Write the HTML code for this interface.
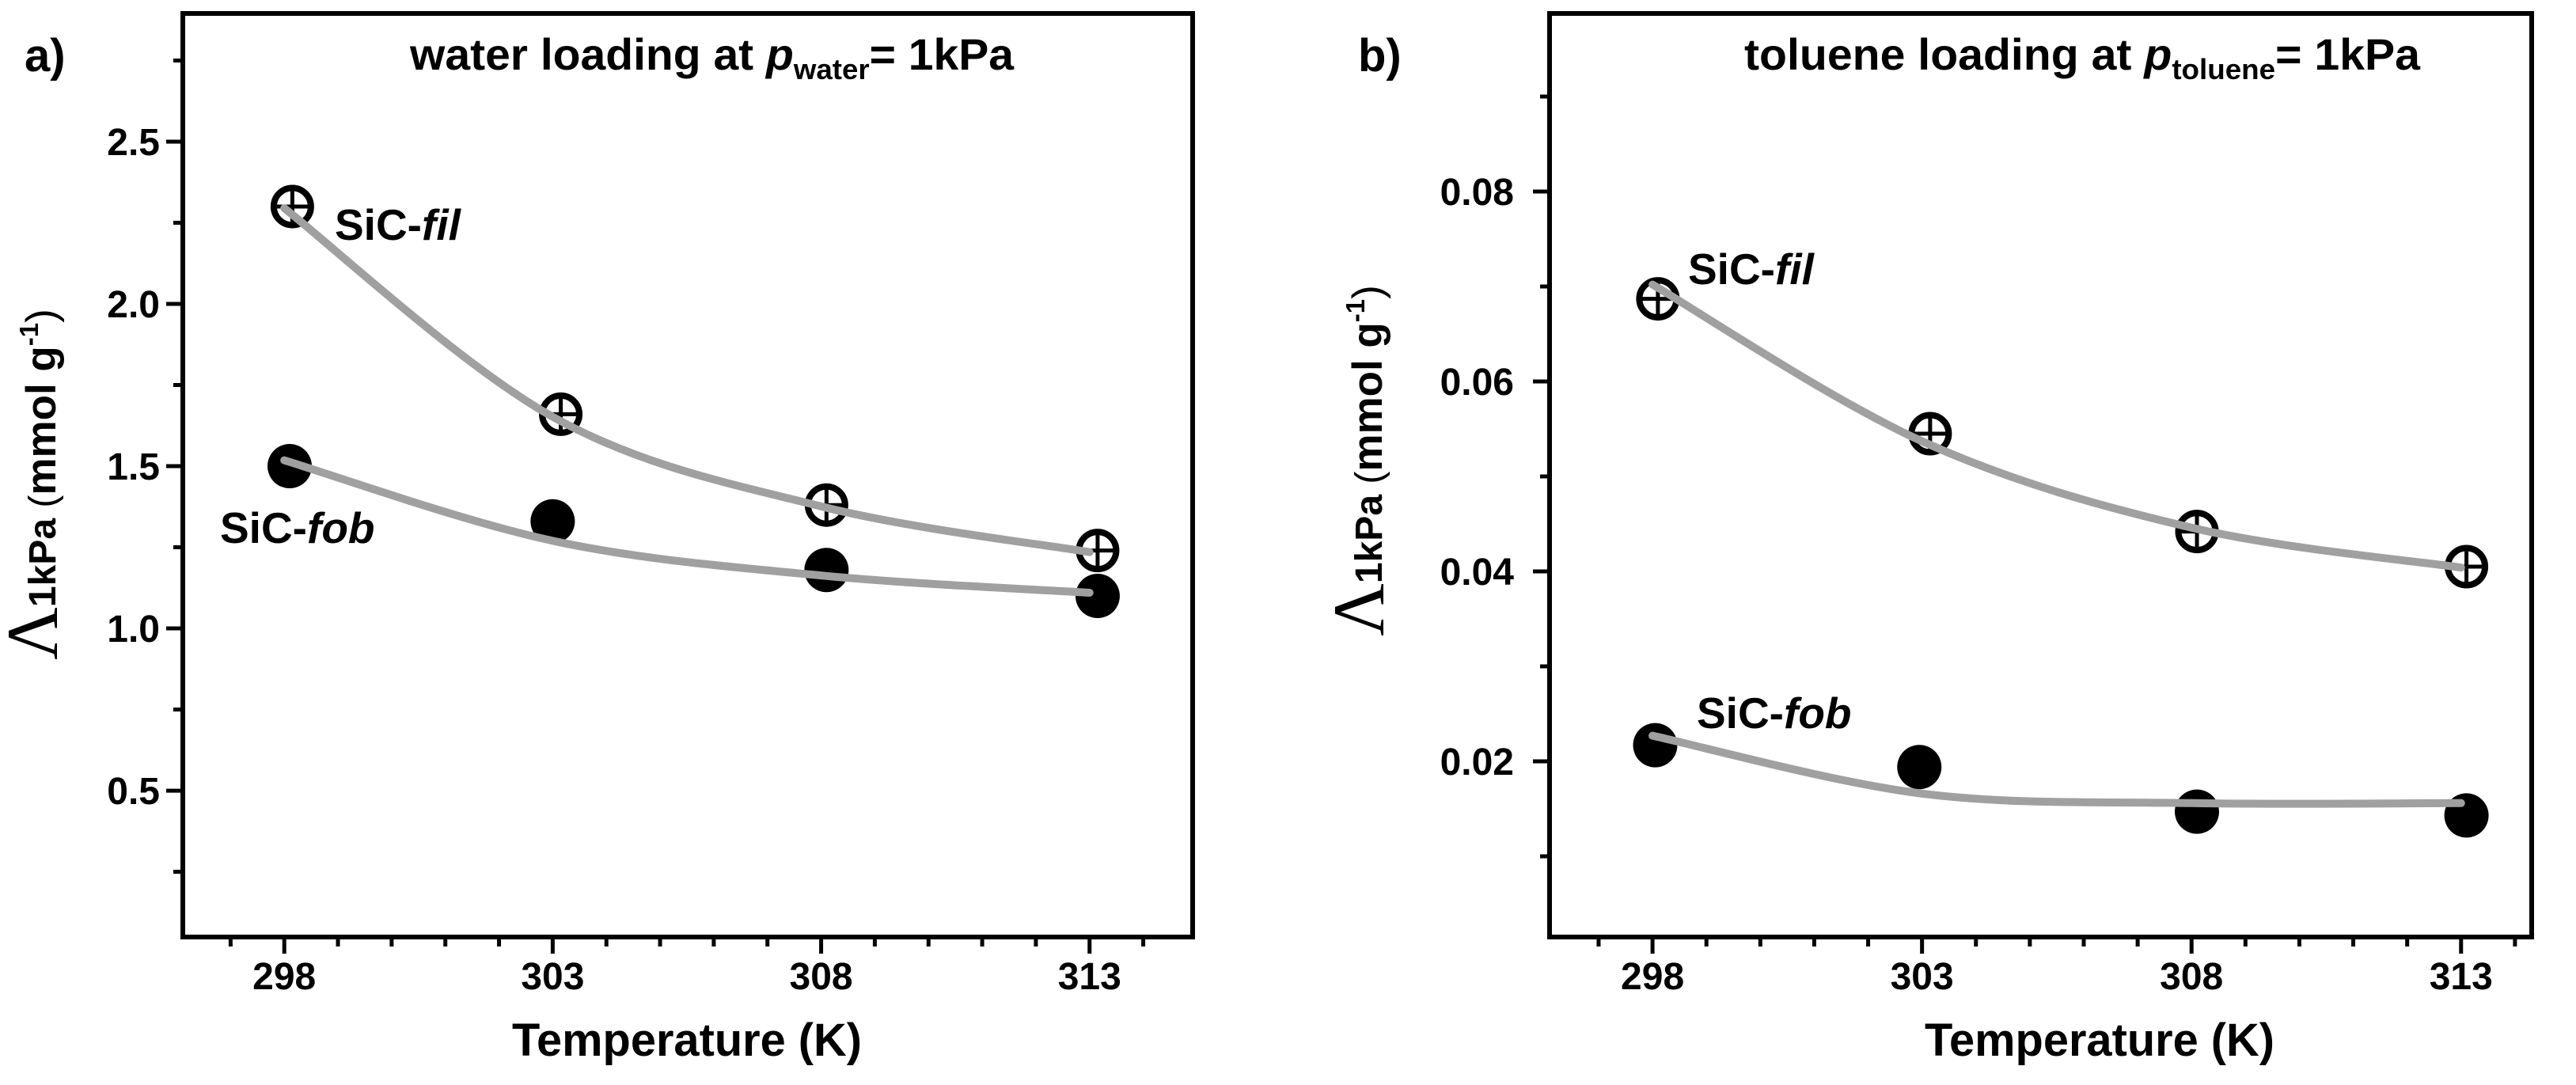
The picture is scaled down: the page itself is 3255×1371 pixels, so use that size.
<!DOCTYPE html>
<html><head><meta charset="utf-8"><style>
html,body{margin:0;padding:0;background:#fff;overflow:hidden}
svg{display:block}
text{font-family:"Liberation Sans",sans-serif;font-weight:bold;fill:#000}
</style></head><body>
<svg id="chart" width="3255" height="1371" viewBox="0 0 3255 1371" xmlns="http://www.w3.org/2000/svg"></svg>
<script>
// ---- Panel a (water) data ----
const temps = [298, 303, 308, 313];
const waterFilX = [298.15, 303.15, 308.1, 313.15];
const waterFil = [2.30, 1.66, 1.38, 1.24];
const waterFobX = [298.1, 303.0, 308.1, 313.15];
const waterFob = [1.50, 1.33, 1.18, 1.10];
const waterFilCurve = [2.295, 1.652, 1.376, 1.235];
const waterFobCurve = [1.518, 1.270, 1.163, 1.110];
const waterYTicks = [0.5, 1.0, 1.5, 2.0, 2.5];
const waterYTickLabels = ["0.5", "1.0", "1.5", "2.0", "2.5"];
// ---- Panel b (toluene) data ----
const tolFilX = [298.1, 303.15, 308.1, 313.1];
const tolFil = [0.0687, 0.0545, 0.0442, 0.0405];
const tolFobX = [298.05, 302.95, 308.1, 313.1];
const tolFob = [0.0217, 0.0194, 0.0147, 0.0143];
const tolFilCurve = [0.0702, 0.0537, 0.0446, 0.0404];
const tolFobCurve = [0.0227, 0.0166, 0.0156, 0.0156];
const tolYTicks = [0.02, 0.04, 0.06, 0.08];
const tolYTickLabels = ["0.02", "0.04", "0.06", "0.08"];
const xTicks = [298, 303, 308, 313];
const xTickLabels = ["298", "303", "308", "313"];

const NS = "http://www.w3.org/2000/svg";
const svg = document.getElementById("chart");
function mk(tag, attrs, parent) {
  const e = document.createElementNS(NS, tag);
  for (const k in attrs) e.setAttribute(k, attrs[k]);
  (parent || svg).appendChild(e);
  return e;
}

function panel(cfg) {
  const g = mk("g", {});
  
  
  const L = cfg.left, R = cfg.right, T = 17, B = 1184;
  const sx = v => L + (v - cfg.xmin) / (cfg.xmax - cfg.xmin) * (R - L);
  const sy = v => B - (v - cfg.ymin) / (cfg.ymax - cfg.ymin) * (B - T);
  const fr = mk("rect", {x: L, y: T, width: R - L, height: B - T, fill: "none", stroke: "#000", "stroke-width": 6}, g);
  
  
  for (let t = Math.ceil(cfg.xmin); t <= cfg.xmax; t++) {
    const major = xTicks.includes(t);
    const tk = mk("line", {x1: sx(t), x2: sx(t), y1: B, y2: B + (major ? 21 : 12), stroke: "#000", "stroke-width": 5}, g);
    
    
  }
  xTicks.forEach((t, i) => {
    const tx = mk("text", {x: sx(t), y: 1250, "font-size": 48, "text-anchor": "middle"}, g);
    tx.textContent = xTickLabels[i];
    
    
  });
  const step = cfg.yTicks[1] - cfg.yTicks[0];
  for (let k = -1; k < 2 * cfg.yTicks.length + 2; k++) {
    const v = cfg.yTicks[0] + k * step / 2;
    if (v < cfg.ymin || v > cfg.ymax) continue;
    const major = k % 2 === 0;
    const tk = mk("line", {x1: L, x2: L - (major ? 21 : 12), y1: sy(v), y2: sy(v), stroke: "#000", "stroke-width": 5}, g);
    
    
  }
  cfg.yTicks.forEach((t, i) => {
    const tx = mk("text", {x: cfg.yLabelRight, y: sy(t) + 17, "font-size": 48, "text-anchor": "end"}, g);
    tx.textContent = cfg.yLabels[i];
    
    
  });
  const xt = mk("text", {x: cfg.xTitleX - 221, y: 1334, "font-size": 58, textLength: 442, lengthAdjust: "spacingAndGlyphs"}, g);
  xt.textContent = "Temperature (K)";
  
  
  const yt = mk("text", {transform: `translate(${cfg.yTitleX},${cfg.yTitleY}) rotate(-90)`, "text-anchor": "middle", "font-size": 53}, g);
  
  
  yt.innerHTML = '<tspan style="font-family:\'Liberation Serif\',serif;font-weight:normal" font-size="92">Λ</tspan><tspan font-size="48" dy="-2">1kPa</tspan><tspan font-weight="normal" font-size="48"> (</tspan><tspan>mmol g</tspan><tspan font-size="33" dy="-22">-1</tspan><tspan dy="22" font-weight="normal">)</tspan>';
  const pl = mk("text", {x: cfg.letterX, y: 90, "font-size": 58}, g);
  pl.textContent = cfg.letter;
  
  
  const ti = mk("text", {x: cfg.titleX, y: 88, "font-size": 56, textLength: cfg.titleW, lengthAdjust: "spacingAndGlyphs"}, g);
  ti.innerHTML = cfg.title;
  
  
  function curvePath(ys) {
    const p = temps.map((t, i) => [sx(t), sy(ys[i])]);
    let d = `M${p[0][0]},${p[0][1]}`;
    for (let i = 0; i < p.length - 1; i++) {
      const p0 = p[Math.max(i - 1, 0)], p1 = p[i], p2 = p[i + 1], p3 = p[Math.min(i + 2, p.length - 1)];
      const c1 = [p1[0] + (p2[0] - p0[0]) / 6, p1[1] + (p2[1] - p0[1]) / 6];
      const c2 = [p2[0] - (p3[0] - p1[0]) / 6, p2[1] - (p3[1] - p1[1]) / 6];
      d += ` C${c1[0]},${c1[1]} ${c2[0]},${c2[1]} ${p2[0]},${p2[1]}`;
    }
    return d;
  }
  cfg.fobX.forEach((x, i) => {
    const c = mk("circle", {cx: sx(x), cy: sy(cfg.fob[i]), r: 28, fill: "#000"}, g);
    
    
  });
  cfg.filX.forEach((x, i) => {
    const cx = sx(x), cy = sy(cfg.fil[i]);
    const gg = mk("g", {}, g);
    
    
    mk("circle", {cx, cy, r: 23.5, fill: "#fff", stroke: "#000", "stroke-width": 8}, gg);
    mk("line", {x1: cx - 20, x2: cx + 20, y1: cy, y2: cy, stroke: "#000", "stroke-width": 5}, gg);
    mk("line", {x1: cx, x2: cx, y1: cy - 21, y2: cy + 21, stroke: "#000", "stroke-width": 5}, gg);
  });
  [[cfg.filCurve, 'fil-fit-curve'], [cfg.fobCurve, 'fob-fit-curve']].forEach(([ys, nm]) => {
    const c = mk("path", {d: curvePath(ys), fill: "none", stroke: "#a0a0a0", "stroke-width": 10, "stroke-linecap": "round"}, g);
    
    
  });
  const lf = mk("text", {x: cfg.filLab[0], y: cfg.filLab[1], "font-size": 55}, g);
  lf.innerHTML = 'SiC-<tspan font-style="italic">fil</tspan>';
  
  
  const lb = mk("text", {x: cfg.fobLab[0], y: cfg.fobLab[1], "font-size": 55}, g);
  lb.innerHTML = 'SiC-<tspan font-style="italic">fob</tspan>';
  
  
}

panel({name: 'panel-a-water', left: 231, right: 1507, xmin: 296.11, xmax: 314.92, ymin: 0.049, ymax: 2.895,
  yTicks: waterYTicks, yLabels: waterYTickLabels, filX: waterFilX, fil: waterFil, fobX: waterFobX, fob: waterFob,
  filCurve: waterFilCurve, fobCurve: waterFobCurve, letter: 'a)', letterX: 31, titleX: 518, titleW: 763,
  title: 'water loading at <tspan font-style="italic">p</tspan><tspan font-size="36" dy="12">water</tspan><tspan dy="-12">= 1kPa</tspan>',
  xTitleX: 868, yTitleX: 72, yTitleY: 612, yLabelRight: 202, filLab: [423, 303], fobLab: [278, 686]});
panel({name: 'panel-b-toluene', left: 1958, right: 3199, xmin: 296.09, xmax: 314.31, ymin: 0.0015, ymax: 0.09875,
  yTicks: tolYTicks, yLabels: tolYTickLabels, filX: tolFilX, fil: tolFil, fobX: tolFobX, fob: tolFob,
  filCurve: tolFilCurve, fobCurve: tolFobCurve, letter: 'b)', letterX: 1716, titleX: 2204, titleW: 854,
  title: 'toluene loading at <tspan font-style="italic">p</tspan><tspan font-size="36" dy="12">toluene</tspan><tspan dy="-12">= 1kPa</tspan>',
  xTitleX: 2653, yTitleX: 1748, yTitleY: 582, yLabelRight: 1913, filLab: [2133, 359], fobLab: [2144, 920]});
</script>
</body></html>
